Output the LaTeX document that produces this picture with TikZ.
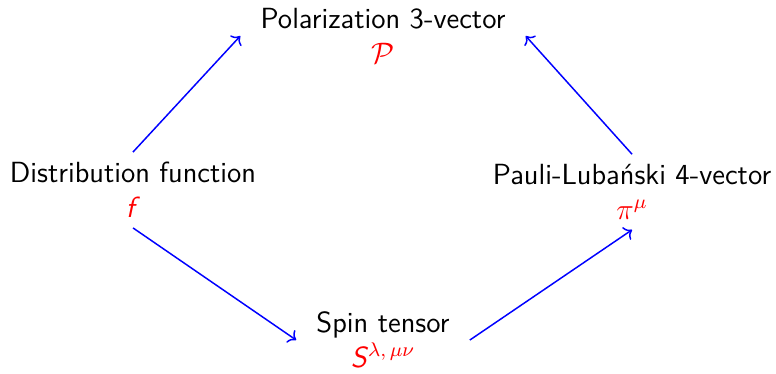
\documentclass[tikz,border=0pt]{standalone}
\usepackage{amsmath}
\usepackage{tikz}
\usetikzlibrary{arrows.meta,positioning}

\begin{document}
\begin{tikzpicture}[
  quantity/.style={align=center,inner xsep=8pt,inner ysep=4pt,font=\fontsize{11.8}{14}\selectfont\sffamily},
  link/.style={->,blue,line width=0.6pt}]
  \useasboundingbox (0,0) rectangle (11.04,5.307);
  \node[quantity] (pol) at (5.449,4.795) {Polarization 3-vector\\ \textcolor{red}{$\mathcal{P}$}};
  \node[quantity] (dist) at (1.892,2.604) {Distribution function\\ \textcolor{red}{\textit{f}}};
  \node[quantity] (pl) at (8.992,2.575) {Pauli-Luba\'nski 4-vector\\ \textcolor{red}{$\pi^{\mu}$}};
  \node[quantity] (spin) at (5.449,0.469) {Spin tensor\\ \textcolor{red}{\textit{S}$^{\lambda,\,\mu\nu}$}};
  \draw[link] (dist.north) -- (pol.west);
  \draw[link] (pl.north) -- (pol.east);
  \draw[link] (dist.south) -- (spin.west);
  \draw[link] (spin.east) -- (pl.south);
\end{tikzpicture}
\end{document}
